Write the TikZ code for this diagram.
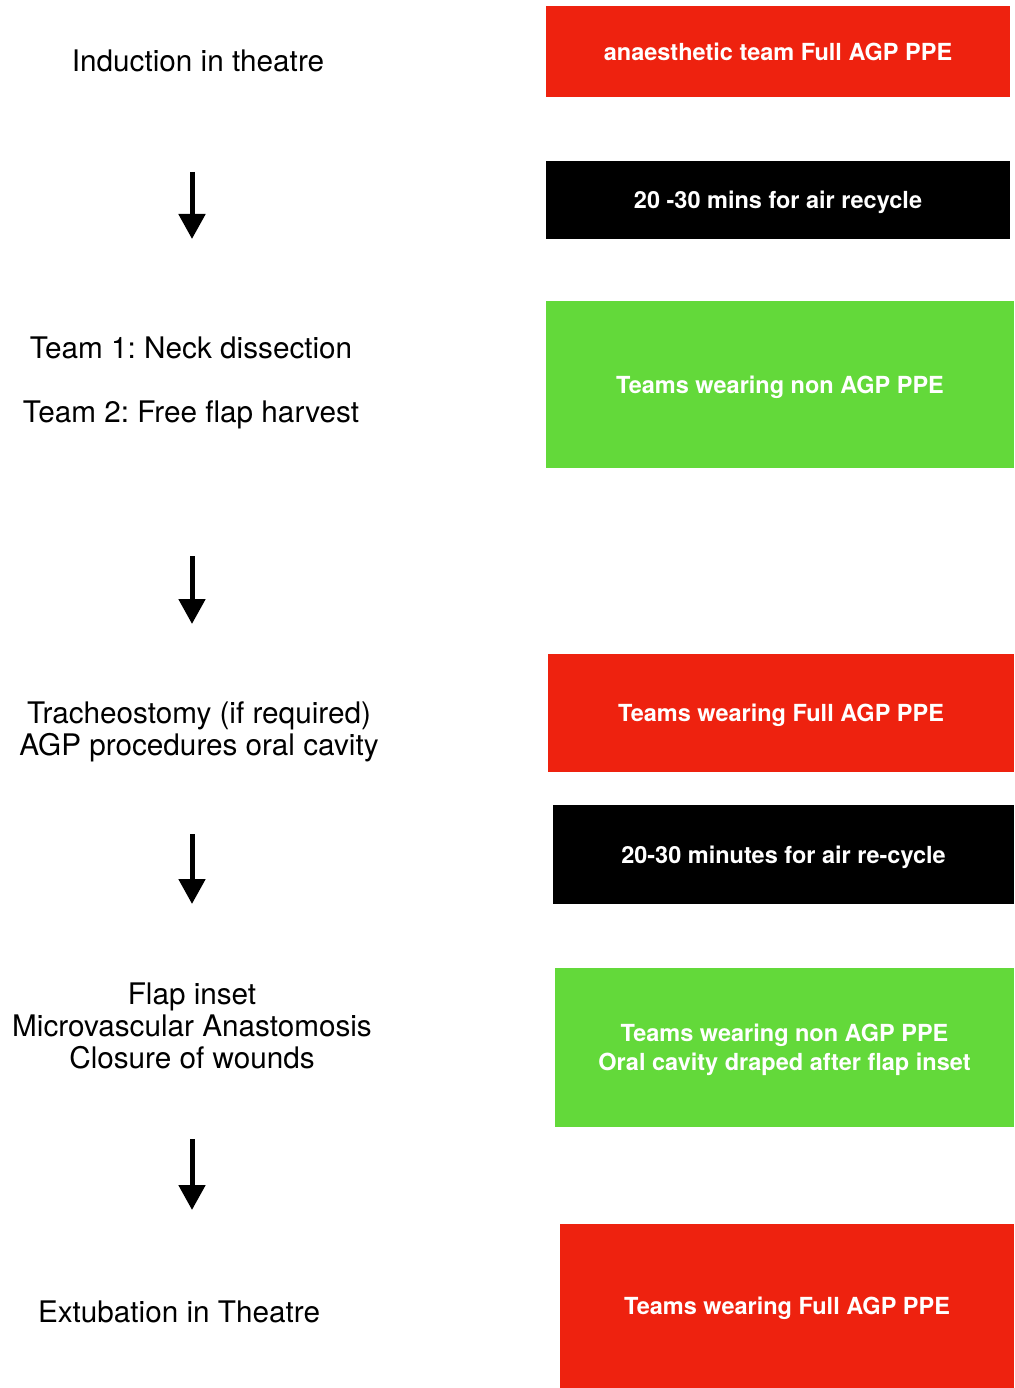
\documentclass[tikz,border=0pt]{standalone}
\usepackage{fontspec}
\setmainfont{TeX Gyre Heros}
\usepackage{tikz}
\usetikzlibrary{arrows.meta}
\frenchspacing
\definecolor{ppered}{HTML}{EE220F}
\definecolor{ppegreen}{HTML}{63D93A}
\tikzstyle{stage} = [align=center, inner sep=0pt, text depth=0pt, font=\fontsize{29.7}{32}\selectfont]
\tikzstyle{ppebox} = [rectangle, inner sep=0pt, align=center, text depth=0pt, text=white, font=\fontsize{23.5}{29}\selectfont\bfseries]
\tikzstyle{flow} = [line width=5pt, -{Triangle[width=26pt, length=25pt]}]

\begin{document}
\begin{tikzpicture}[x=1pt, y=-1pt]
	\useasboundingbox[fill=white] (0,0) rectangle (1014,1388);
	% left column
	\node[stage] (induction) at (198,61) {Induction in theatre};
	\node[stage] (teamone) at (191,348) {Team 1: Neck dissection};
	\node[stage] (teamtwo) at (191,412) {Team 2: Free flap harvest};
	\node[stage] (trach) at (199,729) {Tracheostomy (if required)\\AGP procedures oral cavity};
	\node[stage] (flap) at (192,1026) {Flap inset\\Microvascular Anastomosis\\Closure of wounds};
	\node[stage] (extub) at (179,1312) {Extubation in Theatre};
	% arrows
	\coordinate (a1s) at (192,172); \coordinate (a1e) at (192,239);
	\coordinate (a2s) at (192,556); \coordinate (a2e) at (192,624);
	\coordinate (a3s) at (192,834); \coordinate (a3e) at (192,904);
	\coordinate (a4s) at (192,1139); \coordinate (a4e) at (192,1210);
	\draw[flow] (a1s) -- (a1e);
	\draw[flow] (a2s) -- (a2e);
	\draw[flow] (a3s) -- (a3e);
	\draw[flow] (a4s) -- (a4e);
	% right column
	\node[ppebox, fill=ppered, minimum width=464pt, minimum height=91pt] (anaes) at (778,51.5) {anaesthetic team Full AGP PPE};
	\node[ppebox, fill=black, minimum width=464pt, minimum height=78pt] (recycle) at (778,200) {20 -30 mins for air recycle};
	\node[ppebox, fill=ppegreen, minimum width=468pt, minimum height=167pt] (nonagp) at (780,384.5) {Teams wearing non AGP PPE};
	\node[ppebox, fill=ppered, minimum width=466pt, minimum height=118pt] (fullagp) at (781,713) {Teams wearing Full AGP PPE};
	\node[ppebox, fill=black, minimum width=461pt, minimum height=99pt] (recycletwo) at (783.5,854.5) {20-30 minutes for air re-cycle};
	\node[ppebox, fill=ppegreen, minimum width=459pt, minimum height=159pt] (draped) at (784.5,1047.5) {Teams wearing non AGP PPE\\Oral cavity draped after flap inset};
	\node[ppebox, fill=ppered, minimum width=454pt, minimum height=164pt] (fullagptwo) at (787,1306) {Teams wearing Full AGP PPE};
\end{tikzpicture}
\end{document}
